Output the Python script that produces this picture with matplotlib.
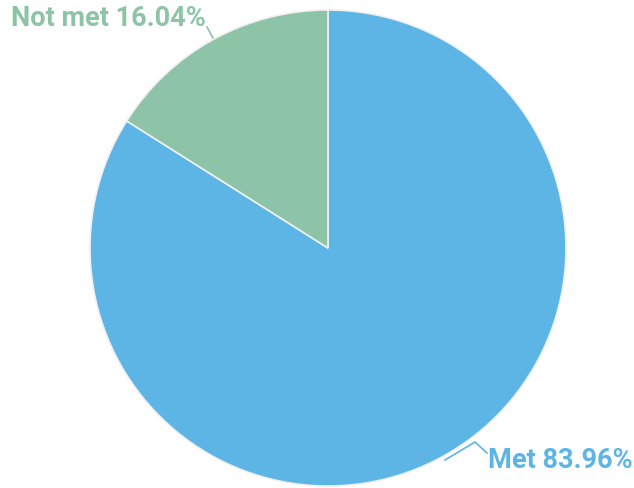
import matplotlib.pyplot as plt
import numpy as np

labels = ["Met", "Not met"]
values = [83.96, 16.04]
colors = ["#5DB5E5", "#8DC3A7"]

W, H = 634, 488
cx, cy, R = 328, 248, 238

fig = plt.figure(figsize=(W/100, H/100), dpi=100)
ax = fig.add_axes([0, 0, 1, 1])

wedges, _ = ax.pie(values, colors=colors, startangle=90, counterclock=False,
                   radius=R, center=(0, 0), frame=True,
                   wedgeprops=dict(edgecolor="#F0F0F0", linewidth=1.2))
ax.set_xlim(-cx, W - cx)
ax.set_ylim(-(H - cy), cy)
ax.axis("off")

font = dict(family=["Roboto", "DejaVu Sans"], fontweight="bold", fontsize=19.5)

# Met label
ax.plot([117, 147, 159], [-212, -194, -205], color=colors[0], lw=1.2)
ax.text(160, -212, f"{labels[0]} {values[0]:.2f}%", color=colors[0],
        ha="left", va="center", **font)

# Not met label
ax.plot([-115, -121], [210, 221], color=colors[1], lw=1.2)
ax.text(-122, 229, f"{labels[1]} {values[1]:.2f}%", color=colors[1],
        ha="right", va="center", **font)

fig.savefig("out.png", dpi=100)
